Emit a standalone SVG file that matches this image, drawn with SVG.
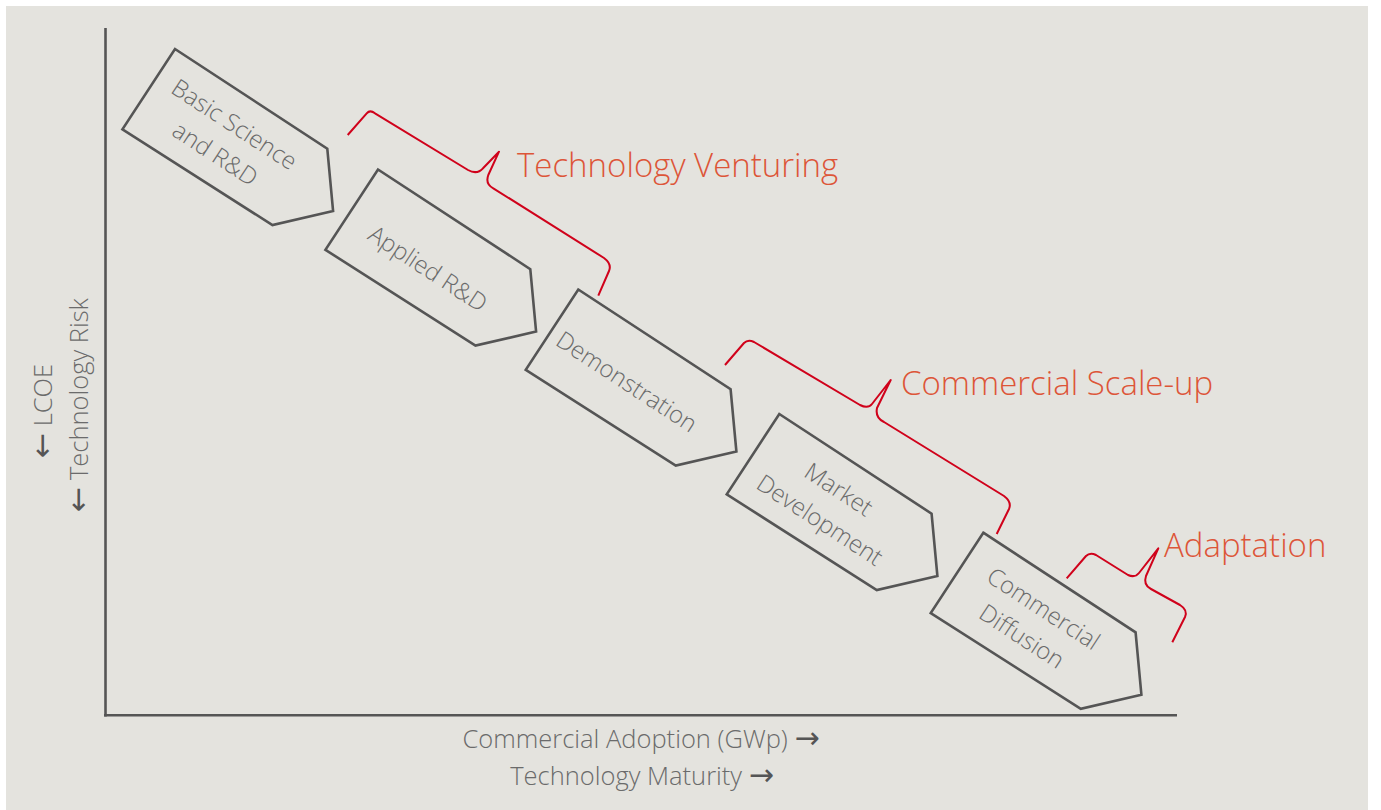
<svg xmlns="http://www.w3.org/2000/svg" width="1381" height="810" viewBox="0 0 1381 810">
<style>
.bg{fill:#e4e3de}
.axis{stroke:#555;stroke-width:2.6;fill:none}
.node{fill:none;stroke:#555;stroke-width:2.6;stroke-linejoin:miter}
.nt{font-family:"Open Sans","DejaVu Sans",sans-serif;font-weight:300;font-size:24px;fill:#6b6b6b;text-anchor:middle}
.brace{fill:none;stroke:#d0021b;stroke-width:2;stroke-linejoin:round}
.rl{font-family:"Open Sans","DejaVu Sans",sans-serif;font-weight:300;font-size:33px;fill:#dd5538}
.al{font-family:"Open Sans","DejaVu Sans",sans-serif;font-weight:300;font-size:25.5px;fill:#6b6b6b;text-anchor:middle}
.ar{font-family:"DejaVu Sans",sans-serif;font-weight:400;font-size:30px;fill:#555}
</style>
<defs>
<polygon id="pent" points="0,0 182,0 221,49 178,94 0,96"/>
</defs>
<rect class="bg" x="6" y="6" width="1362" height="804"/>
<g id="axes">
<line class="axis" x1="105.5" y1="28" x2="105.5" y2="716.5"/>
<line class="axis" x1="104" y1="715.3" x2="1177" y2="715.3"/>
</g>
<g id="axis-labels">
<text class="al" x="641" y="748">Commercial Adoption (GWp) <tspan class="ar">→</tspan></text>
<text class="al" x="642" y="785">Technology Maturity <tspan class="ar">→</tspan></text>
<text class="al" transform="translate(52,411) rotate(-90)"><tspan class="ar">←</tspan> LCOE</text>
<text class="al" transform="translate(88,405) rotate(-90)"><tspan class="ar">←</tspan> Technology Risk</text>
</g>
<g id="node-basic" transform="translate(175,49) rotate(33.2)">
<use href="#pent" class="node"/>
<text class="nt" x="91" y="39">Basic Science</text>
<text class="nt" x="91" y="74">and R&amp;D</text>
</g>
<g id="node-applied" transform="translate(378,169.5) rotate(33.2)">
<use href="#pent" class="node"/>
<text class="nt" x="96" y="64">Applied R&amp;D</text>
</g>
<g id="node-demo" transform="translate(578.3,289.5) rotate(33.2)">
<use href="#pent" class="node"/>
<text class="nt" x="91" y="59">Demonstration</text>
</g>
<g id="node-market" transform="translate(779.3,414) rotate(33.2)">
<use href="#pent" class="node"/>
<text class="nt" x="91" y="39">Market</text>
<text class="nt" x="92" y="75">Development</text>
</g>
<g id="node-diffusion" transform="translate(983.3,532.7) rotate(33.2)">
<use href="#pent" class="node"/>
<text class="nt" x="92" y="39">Commercial</text>
<text class="nt" x="89" y="74">Diffusion</text>
</g>
<g id="connectors">
<path class="brace" d="M347.7,135 L366.7,113.3 Q370,109.5 375,113.3 L468,170 Q477,175 483,168.3 L499,151.7 L488.3,175 Q485,184 493.3,188.3 L604,258 Q612,264 609,271 L598.3,295.7"/>
<path class="brace" d="M725,365 L744,343 Q748,339 754,342 L860,405 Q868,409 872,404 L890.7,380 L877,408 Q875,418 884,422 L1004,496 Q1012,502 1009,509 L996.7,534"/>
<path class="brace" d="M1066.7,578.3 L1086,556 Q1090,552 1096,555 L1128,575 Q1135,578 1139,573 L1158.3,548.3 L1146,576 Q1143,585 1151,589 L1180,605 Q1188,610 1185,617 L1172.3,642.3"/>
</g>
<g id="labels">
<text class="rl" x="517" y="176.5">Technology Venturing</text>
<text class="rl" x="901" y="395">Commercial Scale-up</text>
<text class="rl" x="1164" y="557">Adaptation</text>
</g>
</svg>
